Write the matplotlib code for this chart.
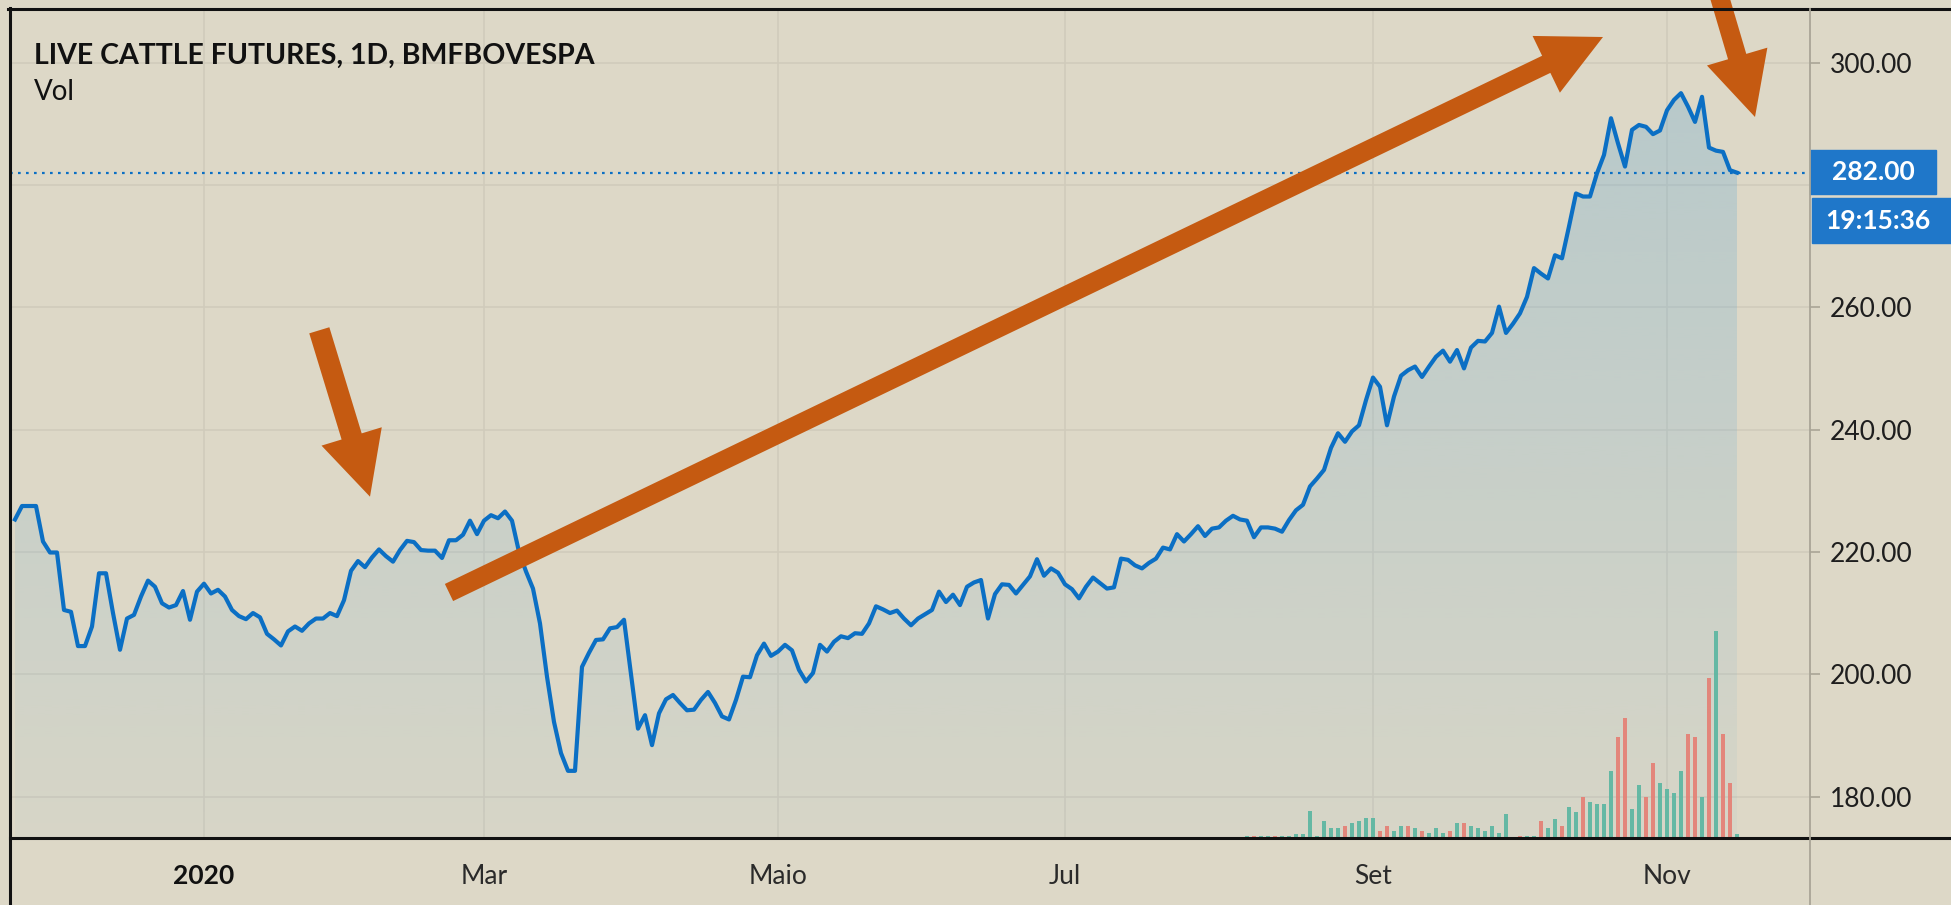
import numpy as np
import matplotlib
matplotlib.use("Agg")
import matplotlib.pyplot as plt
from matplotlib.patches import Polygon, Rectangle
from matplotlib.lines import Line2D

plt.rcParams["font.family"] = ["Lato", "DejaVu Sans"]

# daily closes, bar 0 = late Nov 2019, last bar = mid Nov 2020
close = [
    225.3, 227.5, 227.5, 227.5, 221.7, 219.9, 219.9, 210.5, 210.2, 204.6,
    204.6, 207.8, 216.5, 216.5, 210.0, 204.0, 209.1, 209.7, 212.7, 215.3,
    214.3, 211.6, 210.9, 211.3, 213.6, 208.9, 213.5, 214.8, 213.2, 213.8,
    212.7, 210.5, 209.5, 209.0, 210.0, 209.3, 206.6, 205.7, 204.7, 207.0,
    207.8, 207.1, 208.3, 209.1, 209.1, 210.0, 209.5, 212.1, 216.9, 218.5,
    217.5, 219.1, 220.4, 219.3, 218.4, 220.3, 221.8, 221.6, 220.3, 220.2,
    220.2, 219.0, 221.9, 221.9, 222.8, 225.1, 222.9, 225.1, 226.0, 225.5,
    226.6, 225.1, 220.0, 216.8, 214.0, 208.3, 199.6, 192.2, 187.1, 184.2,
    184.2, 201.2, 203.5, 205.6, 205.7, 207.5, 207.7, 208.9, 200.0, 191.1,
    193.3, 188.4, 193.6, 195.9, 196.6, 195.3, 194.1, 194.2, 195.8, 197.1,
    195.3, 193.1, 192.6, 195.8, 199.6, 199.5, 203.1, 205.0, 203.0, 203.7,
    204.8, 203.9, 200.7, 198.8, 200.2, 204.8, 203.7, 205.3, 206.2, 205.9,
    206.7, 206.6, 208.3, 211.1, 210.6, 210.0, 210.4, 209.1, 208.0, 209.1,
    209.8, 210.5, 213.5, 211.8, 213.0, 211.3, 214.3, 215.0, 215.4, 209.1,
    213.1, 214.7, 214.6, 213.2, 214.6, 216.0, 218.8, 216.1, 217.3, 216.6,
    214.7, 213.9, 212.4, 214.3, 215.8, 214.9, 214.0, 214.2, 218.9, 218.7,
    217.8, 217.3, 218.2, 218.9, 220.7, 220.4, 222.9, 221.7, 222.9, 224.2,
    222.6, 223.8, 224.0, 225.1, 225.9, 225.3, 225.1, 222.4, 224.0, 224.0,
    223.8, 223.3, 225.2, 226.8, 227.7, 230.7, 232.0, 233.4, 237.0, 239.4,
    238.0, 239.7, 240.7, 244.8, 248.5, 247.0, 240.7, 245.4, 248.8, 249.7,
    250.3, 248.6, 250.3, 251.9, 252.9, 251.1, 253.0, 250.0, 253.4, 254.5,
    254.4, 255.8, 260.1, 255.8, 257.3, 259.0, 261.7, 266.4, 265.5, 264.7,
    268.5, 268.0, 273.2, 278.6, 278.1, 278.1, 281.9, 284.9, 290.9, 286.8,
    283.0, 289.0, 289.8, 289.5, 288.3, 288.9, 292.2, 293.9, 295.0, 292.8,
    290.3, 294.4, 286.1, 285.6, 285.4, 282.4, 282.0,
]

# volume (relative units) from bar 176 onward, and up/down colouring
vol_start = 176
volume = [
    1.0, 1.0, 1.0, 1.0, 1.0, 1.0, 1.0, 2.0, 2.0, 13.0,
    1.0, 8.2, 4.7, 4.7, 5.8, 7.1, 8.2, 9.5, 9.5, 3.4,
    5.8, 3.4, 5.8, 5.8, 4.7, 3.4, 2.2, 4.7, 2.2, 3.4,
    7.1, 7.1, 5.8, 4.7, 3.4, 5.8, 2.2, 11.8, 0.6, 1.0,
    1.0, 1.0, 8.2, 4.7, 9.3, 5.8, 15.0, 12.7, 19.8, 17.4,
    16.3, 16.3, 32.4, 48.8, 58.1, 13.8, 25.6, 19.8, 36.1, 26.7,
    23.5, 21.9, 32.4, 50.1, 48.8, 20.0, 77.0, 100.0, 50.1, 26.7,
    2.0,
]
vol_up = [
    1, 0, 1, 1, 0, 1, 1, 1, 1, 1,
    1, 1, 1, 1, 0, 1, 1, 1, 1, 0,
    0, 1, 1, 0, 1, 0, 1, 1, 1, 0,
    1, 0, 1, 1, 1, 1, 1, 1, 1, 0,
    1, 1, 0, 1, 1, 0, 1, 1, 0, 1,
    1, 1, 1, 0, 0, 1, 1, 0, 0, 1,
    1, 1, 1, 0, 0, 1, 0, 1, 0, 0,
    1,
]

last_price = "282.00"
countdown = "19:15:36"
price_ticks = [180, 200, 220, 240, 260, 300]
grid_levels = [180, 200, 220, 240, 260, 280, 300]
month_pos = [27, 67, 109, 150, 194, 236]
month_lbl = ["2020", "Mar", "Maio", "Jul", "Set", "Nov"]
title = "LIVE CATTLE FUTURES, 1D, BMFBOVESPA"

W, H = 1951, 905
BG = "#ddd8c7"
BLUE = "#0b6fc4"
ORANGE = "#c55a11"
GRID = "#d0cbbb"
UP, DOWN = "#5fb7a2", "#e48277"


def fx(px):
    return px / W


def fy(py):
    return 1 - py / H


fig = plt.figure(figsize=(W / 100, H / 100), dpi=100, facecolor=BG)
rect = [fx(10), fy(838), 1800 / W, 829 / H]
ax = fig.add_axes(rect)
ax.set_facecolor(BG)

x = np.arange(len(close))
ylo, yhi = 173.22, 308.76
xlo, xhi = -0.714, 256.43

for g in grid_levels:
    ax.axhline(g, color=GRID, lw=1.2, zorder=0)
for m in month_pos:
    ax.axvline(m, color=GRID, lw=1.2, zorder=0)

# gradient area under the line
poly = ax.fill_between(x, close, ylo, color="none", lw=0)
grad = np.zeros((256, 1, 4))
grad[..., 0] = 105 / 255
grad[..., 1] = 170 / 255
grad[..., 2] = 210 / 255
grad[..., 3] = np.linspace(0.05, 0.32, 256)[:, None]
im = ax.imshow(grad, extent=[xlo, xhi, ylo, max(close)], origin="lower",
               aspect="auto", zorder=1, interpolation="bilinear")
im.set_clip_path(poly.get_paths()[0], transform=ax.transData)

ax.plot(x, close, color=BLUE, lw=3.0, zorder=4, solid_joinstyle="round")
ax.axhline(float(last_price), color=BLUE, lw=1.6, ls=(0, (1.2, 2.4)), zorder=3)

ax.set_xlim(xlo, xhi)
ax.set_ylim(ylo, yhi)
for s in ax.spines.values():
    s.set_visible(False)

ax.yaxis.tick_right()
ax.set_yticks(price_ticks)
ax.set_yticklabels([f"{t:.2f}" for t in price_ticks])
ax.tick_params(axis="y", length=7, width=1.2, color="#aaa596", pad=7,
               labelsize=19, labelcolor="#1e1e1e")
ax.set_xticks(month_pos)
ax.set_xticklabels(month_lbl)
ax.tick_params(axis="x", length=0, pad=19, labelsize=19, labelcolor="#2a2a2a")
ax.get_xticklabels()[0].set_fontweight("bold")
ax.get_xticklabels()[0].set_color("#111111")

# volume pane on top, sharing x
vax = fig.add_axes(rect, sharex=ax)
vax.patch.set_visible(False)
vax.axis("off")
vx = np.arange(vol_start, vol_start + len(volume))
vcol = [UP if u else DOWN for u in vol_up]
vax.bar(vx, volume, width=0.45, color=vcol, alpha=0.95)
vax.set_ylim(0, 400)
vax.set_xlim(xlo, xhi)

# frame lines
for xs, ys, c, lw in [
    ([8, W], [9, 9], "#111111", 2.2),
    ([9.5, 9.5], [8, H], "#111111", 2.2),
    ([10, W], [838, 838], "#111111", 2.2),
    ([1810, 1810], [9, H], "#a9a597", 1.3),
]:
    fig.add_artist(Line2D([fx(v) for v in xs], [fy(v) for v in ys],
                          color=c, lw=lw, transform=fig.transFigure))

# price + countdown labels
fig.add_artist(Rectangle((fx(1810), fy(194)), 126 / W, 44 / H, color="#1f77c9",
                         transform=fig.transFigure))
fig.add_artist(Rectangle((fx(1812), fy(243)), 139 / W, 45 / H, color="#1f77c9",
                         transform=fig.transFigure))
fig.text(fx(1873), fy(172), last_price, color="white", fontsize=19,
         fontweight="bold", ha="center", va="center")
fig.text(fx(1878), fy(221), countdown, color="white", fontsize=19,
         fontweight="bold", ha="center", va="center")

fig.text(fx(34), fy(56), title, fontsize=20.5, fontweight="bold",
         color="#111111", va="center")
fig.text(fx(34), fy(92), "Vol", fontsize=20, color="#111111", va="center")


def arrow(tail, tip, sw, hw, hl):
    t = np.array(tail, float)
    p = np.array(tip, float)
    u = (p - t) / np.linalg.norm(p - t)
    n = np.array([-u[1], u[0]])
    b = p - u * hl
    pts = [t + n * sw / 2, b + n * sw / 2, b + n * hw / 2, p,
           b - n * hw / 2, b - n * sw / 2, t - n * sw / 2]
    pts = [(fx(q[0]), fy(q[1])) for q in pts]
    fig.add_artist(Polygon(pts, closed=True, color=ORANGE, lw=0,
                           transform=fig.transFigure))


arrow((319.3, 330.3), (370, 496.7), 21, 63, 63)
arrow((449, 592.5), (1603, 37), 19, 63, 63)
arrow((1712.5, -27), (1755, 117), 19, 63, 63)

fig.savefig("out.png", dpi=100, facecolor=BG)
